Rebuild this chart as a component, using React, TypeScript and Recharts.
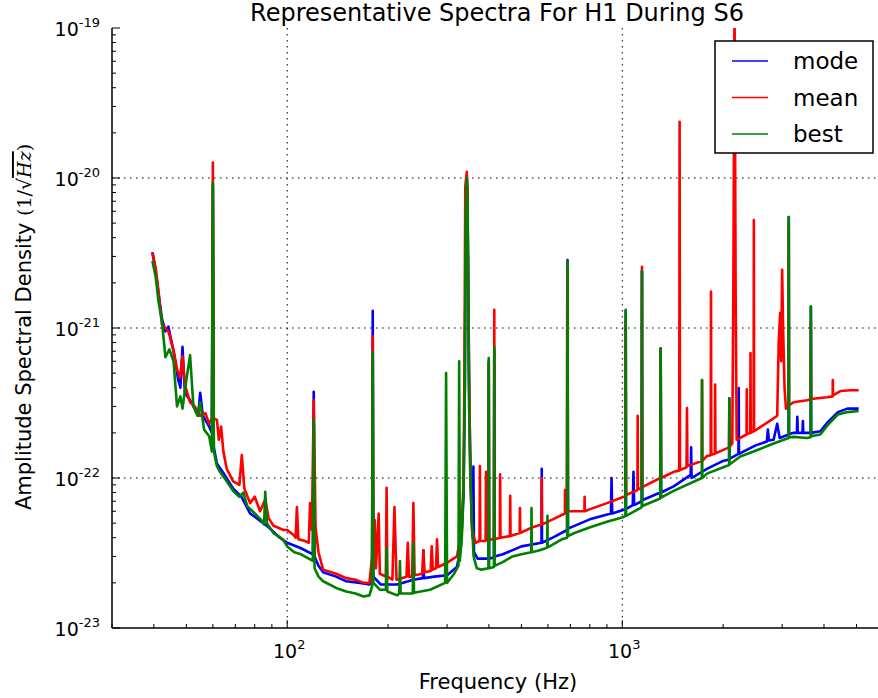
import { CartesianGrid, Line, LineChart, XAxis, YAxis } from 'recharts';

// [frequency Hz, amplitude spectral density 1/sqrt(Hz)]
const modeSpectrum: [number, number][] = [
  [39.6, 3.2e-21], [40.5, 2.4e-21], [41.3, 1.7e-21], [42.3, 1.15e-21], [43.3, 9.5e-22], [44.2, 1.02e-21],
  [45.8, 7.0e-22], [47.3, 4.5e-22], [48.0, 4.0e-22], [48.7, 7.5e-22], [49.5, 3.7e-22], [51.3, 3.3e-22],
  [53, 2.9e-22], [54.2, 2.6e-22], [55.0, 3.7e-22], [56, 2.6e-22], [58.5, 2.2e-22], [59.6, 2.0e-22],
  [60.0, 9.0e-21], [60.4, 1.6e-22], [61.7, 1.25e-22], [65, 1.05e-22], [69, 8.5e-23], [73, 7.5e-23],
  [77.5, 5.8e-23], [82, 5.3e-23], [88, 4.7e-23], [95, 4.0e-23], [100, 3.7e-23], [110, 3.4e-23],
  [119.3, 3.1e-23], [120, 3.76e-22], [120.7, 3.0e-23], [124, 2.6e-23], [128, 2.35e-23], [140, 2.2e-23],
  [150, 2.05e-23], [165, 2.0e-23], [176, 1.95e-23], [179.2, 2.2e-23], [180, 1.3e-21], [180.8, 2.2e-23],
  [190, 1.95e-23], [213, 1.95e-23], [238, 2.1e-23], [254, 2.15e-23], [255, 3.3e-23], [256, 2.15e-23],
  [275, 2.2e-23], [300, 2.25e-23], [321, 2.55e-23], [330, 3.5e-23], [336, 8e-23], [339, 4e-22],
  [341, 5e-21], [343.6, 1.0e-20], [345, 8e-21], [347, 2e-21], [349, 4e-22], [352, 1.3e-22],
  [355, 6e-23], [358, 4e-23], [359.5, 1.19e-22], [361, 3.2e-23], [370, 2.9e-23], [398.6, 2.9e-23],
  [399.5, 6.0e-22], [400.5, 2.9e-23], [414, 2.95e-23], [415, 7.0e-22], [416, 3.0e-23], [440, 3.1e-23],
  [500, 3.5e-23], [574, 3.7e-23], [575, 1.15e-22], [576, 3.7e-23], [620, 4.0e-23], [684.5, 4.5e-23],
  [686.5, 2.84e-21], [688.5, 4.6e-23], [800, 5.3e-23], [925, 5.8e-23], [929, 1.0e-22], [933, 5.8e-23],
  [1022, 6.2e-23], [1024, 1.3e-21], [1026, 6.2e-23], [1075, 6.6e-23], [1080, 1.1e-22], [1085, 6.6e-23],
  [1143, 7.0e-23], [1145, 2.4e-21], [1147, 7.1e-23],
  [1298, 8.0e-23], [1302, 7.3e-22], [1306, 8.0e-23], [1423, 8.8e-23], [1600, 1.05e-22], [1605, 1.6e-22],
  [1610, 1.0e-22], [1789, 1.15e-22], [2000, 1.3e-22], [2084, 1.33e-22], [2087, 3.4e-22], [2090, 1.34e-22],
  [2222, 1.45e-22], [2226, 3.98e-22], [2230, 1.45e-22], [2500, 1.65e-22], [2700, 1.75e-22], [2720, 2.1e-22],
  [2740, 1.78e-22], [2829, 1.8e-22], [2900, 2.3e-22],
  [2950, 1.85e-22], [3136, 1.95e-22], [3140, 5.5e-21], [3145, 1.96e-22], [3246, 2.0e-22], [3320, 2.0e-22],
  [3330, 2.56e-22], [3340, 2.0e-22], [3450, 2.0e-22], [3460, 2.4e-22], [3470, 2.0e-22], [3560, 2.0e-22],
  [3650, 2.0e-22], [3655, 1.39e-21], [3662, 2.0e-22], [3900, 2.05e-22], [4100, 2.35e-22], [4400, 2.75e-22],
  [4700, 2.9e-22], [5075, 2.9e-22],
];

const meanSpectrum: [number, number][] = [
  [39.6, 3.2e-21], [40.5, 2.5e-21], [41.3, 1.75e-21], [42.3, 1.05e-21], [43.3, 1.0e-21], [44.2, 9.5e-22],
  [45.8, 7.1e-22], [47.0, 5.2e-22], [47.9, 4.7e-22], [48.7, 6.5e-22], [49.5, 4.2e-22], [51.3, 3.2e-22],
  [53, 3.0e-22], [55, 2.6e-22], [57, 2.7e-22], [58.5, 2.3e-22], [59.6, 2.5e-22], [60.0, 1.27e-20],
  [60.4, 2.5e-22], [61.7, 2.44e-22], [62.5, 1.8e-22], [63.5, 2.2e-22], [64.5, 1.5e-22], [66, 1.15e-22],
  [69, 9.5e-23], [72, 9.0e-23], [73.2, 1.42e-22], [74.5, 8.5e-23], [77.5, 6.8e-23], [80, 7.5e-23],
  [83, 6.0e-23], [86, 7.2e-23], [88, 5.4e-23], [91, 4.8e-23], [97.5, 4.5e-23], [100, 4.5e-23],
  [104, 4.2e-23], [106, 4.0e-23], [106.9, 6.4e-23], [108, 3.9e-23], [113, 3.8e-23], [116, 3.7e-23],
  [117, 6.8e-23], [118.5, 4.5e-23], [120, 3.3e-22], [121.5, 4.7e-23], [124, 3.2e-23], [128, 2.45e-23],
  [140, 2.3e-23], [150, 2.15e-23], [160, 2.1e-23], [169, 2.0e-23], [176, 2.0e-23], [179.2, 3.0e-23],
  [180, 8.8e-22], [180.8, 3.0e-23], [182.5, 5.25e-23], [184, 2.5e-23], [187.5, 5.8e-23], [189, 2.3e-23],
  [197, 2.2e-23], [198, 8.6e-23], [199, 2.2e-23], [206, 2.1e-23], [209, 6.4e-23], [212, 2.1e-23],
  [227, 2.2e-23], [229, 3.7e-23], [231, 2.2e-23], [236, 2.2e-23], [238, 6.8e-23], [240, 2.25e-23],
  [253, 2.3e-23], [255, 3.3e-23], [257, 2.35e-23], [268, 2.4e-23], [270, 3.5e-23], [272, 2.45e-23],
  [278, 2.5e-23], [280, 3.9e-23], [282, 2.55e-23], [298, 2.7e-23], [321, 3.0e-23], [332, 4.5e-23],
  [336, 1e-22], [338, 5e-22], [340, 8.75e-21], [343.6, 1.1e-20], [345, 8e-21], [347, 2e-21],
  [349, 5e-22], [352, 1.08e-22], [356, 4.5e-23], [365, 3.7e-23], [375, 3.8e-23], [376, 1.2e-22],
  [377, 3.8e-23], [391, 3.8e-23], [392, 1.1e-22], [393, 3.9e-23], [398.6, 3.9e-23], [399.5, 5.8e-22],
  [400.5, 3.9e-23], [414, 3.9e-23], [415, 1.32e-21], [416, 3.9e-23], [431, 4.0e-23], [432, 1.06e-22],
  [433, 4.0e-23], [462, 4.1e-23], [463, 7.6e-23], [464, 4.1e-23], [494, 4.3e-23], [495, 6.3e-23],
  [496, 4.3e-23], [540, 4.7e-23], [574, 4.9e-23], [575, 1.0e-22], [576, 4.9e-23], [620, 5.3e-23],
  [674, 5.8e-23], [675, 8.3e-23], [676, 5.8e-23], [683, 5.85e-23], [685, 1.5e-21], [686.5, 2.7e-21],
  [688.5, 6e-23], [771, 6.0e-23], [772, 7.5e-23], [773, 6.0e-23], [802, 6.2e-23], [900, 6.8e-23],
  [1010, 7.5e-23], [1022, 7.6e-23], [1024, 1.13e-21], [1026, 7.7e-23], [1110, 8.3e-23], [1112, 2.6e-22],
  [1114, 8.4e-23], [1143, 8.6e-23], [1145, 2.56e-21], [1147, 8.7e-23], [1298, 1.0e-22], [1302, 7.3e-22],
  [1306, 1.0e-22], [1423, 1.1e-22], [1479, 1.12e-22], [1483, 2.37e-20], [1487, 1.13e-22], [1555, 1.18e-22],
  [1560, 2.93e-22], [1565, 1.2e-22], [1726, 1.3e-22], [1730, 4.5e-22], [1734, 1.3e-22], [1789, 1.4e-22],
  [1836, 1.42e-22], [1840, 1.75e-21], [1844, 1.43e-22], [1889, 1.45e-22], [1893, 4.2e-22], [1897, 1.46e-22],
  [2083, 1.6e-22], [2087, 3.2e-22], [2091, 1.62e-22], [2130, 1.7e-22], [2145, 1.7e-21], [2163, 1.5e-19],
  [2180, 1.6e-21], [2195, 1.8e-22], [2250, 1.85e-22], [2349, 1.95e-22], [2353, 3.9e-22], [2357, 1.96e-22],
  [2410, 2.0e-22], [2414, 6.8e-22], [2418, 2.0e-22], [2466, 2.05e-22], [2470, 5.25e-21], [2474, 2.05e-22],
  [2829, 2.5e-22], [2900, 2.6e-22], [2930, 8e-22], [2960, 1.26e-21], [2980, 6e-22], [3000, 2.44e-21],
  [3020, 1.0e-21], [3050, 4e-22], [3080, 2.9e-22], [3136, 3.0e-22], [3140, 5.0e-21], [3145, 3.05e-22],
  [3246, 3.2e-22], [3560, 3.3e-22], [3650, 3.35e-22], [3655, 1.1e-21], [3662, 3.36e-22], [4083, 3.45e-22],
  [4245, 3.5e-22], [4250, 4.5e-22], [4255, 3.55e-22], [4477, 3.8e-22], [4800, 3.85e-22], [5075, 3.85e-22],
];

const bestSpectrum: [number, number][] = [
  [39.6, 2.8e-21], [40.5, 2.2e-21], [41.3, 1.5e-21], [42.3, 1.1e-21], [43.3, 6.4e-22], [44.5, 7.2e-22],
  [45.8, 6.0e-22], [46.9, 3.0e-22], [48.0, 3.5e-22], [48.7, 2.9e-22], [50.0, 4.5e-22], [51.3, 6.6e-22],
  [52.5, 3.0e-22], [54.0, 2.6e-22], [55.0, 3.2e-22], [56.5, 2.1e-22], [58.5, 1.9e-22], [59.6, 1.5e-22],
  [60.0, 9.3e-21], [60.4, 1.5e-22], [61.7, 1.2e-22], [63, 1.1e-22], [66, 9.5e-23], [69, 8.2e-23],
  [72, 7.5e-23], [74, 8.0e-23], [76, 6.5e-23], [80, 5.8e-23], [84, 5.2e-23], [85.3, 4.9e-23],
  [86, 8.1e-23], [87, 5.0e-23], [91, 4.3e-23], [97, 3.9e-23], [100, 3.5e-23], [105, 3.2e-23],
  [110, 3.1e-23], [116, 2.9e-23], [119.3, 2.8e-23], [120, 2.44e-22], [120.7, 2.5e-23], [124, 2.2e-23],
  [128, 2.05e-23], [140, 1.85e-23], [150, 1.75e-23], [160, 1.7e-23], [169, 1.62e-23], [176, 1.65e-23],
  [179.2, 1.9e-23], [180, 6.9e-22], [180.8, 2.0e-23], [189, 1.8e-23], [197, 1.8e-23], [198, 3.4e-23],
  [199, 1.75e-23], [213, 1.65e-23], [216, 1.7e-23], [217, 2.8e-23], [218, 1.7e-23], [237, 1.7e-23],
  [238, 3.7e-23], [239, 1.72e-23], [267, 1.8e-23], [296, 2.0e-23], [298, 5.0e-22], [300, 2.0e-23],
  [315, 2.3e-23], [324.5, 2.6e-23], [326, 6.0e-22], [327.5, 2.8e-23], [332, 4.0e-23], [336, 8e-23],
  [339, 4e-22], [341, 5e-21], [343.6, 1.0e-20], [345, 8e-21], [347, 2e-21], [349, 3e-22],
  [352, 1.0e-22], [356, 5e-23], [360, 3.0e-23], [368, 2.5e-23], [380, 2.45e-23], [398.6, 2.5e-23],
  [399.5, 6.3e-22], [400.5, 2.5e-23], [414, 2.55e-23], [415, 7.5e-22], [416, 2.6e-23], [440, 2.75e-23],
  [470, 3.0e-23], [500, 3.1e-23], [535, 3.2e-23], [536, 6.3e-23], [537, 3.2e-23], [567, 3.3e-23],
  [590, 3.4e-23], [597, 3.45e-23], [598, 5.6e-23], [599, 3.45e-23], [620, 3.6e-23], [660, 3.9e-23],
  [684.5, 4.0e-23], [686.5, 2.77e-21], [688.5, 4.1e-23], [720, 4.3e-23], [802, 4.7e-23], [900, 5.1e-23],
  [1010, 5.5e-23], [1022, 5.6e-23], [1024, 1.32e-21], [1026, 5.6e-23], [1132, 6.3e-23], [1143, 6.4e-23],
  [1145, 2.4e-21], [1147, 6.5e-23], [1298, 7.3e-23], [1302, 7.3e-22], [1306, 7.4e-23], [1423, 8.2e-23],
  [1728, 1.0e-22], [1730, 4.5e-22], [1733, 1.0e-22], [1789, 1.07e-22], [2084, 1.22e-22], [2087, 3.4e-22],
  [2090, 1.23e-22], [2250, 1.39e-22], [2500, 1.52e-22], [2829, 1.7e-22], [3136, 1.85e-22], [3140, 5.5e-21],
  [3145, 1.86e-22], [3246, 1.88e-22], [3560, 1.85e-22], [3650, 1.87e-22], [3655, 1.39e-21], [3662, 1.9e-22],
  [3900, 1.95e-22], [4100, 2.25e-22], [4400, 2.65e-22], [4700, 2.75e-22], [5075, 2.8e-22],
];

const seriesNames = ['mode', 'mean', 'best'];
const seriesColors = ['#0000ff', '#ff0000', '#008000'];

const xMajorTicks = [100, 1000];
const xMajorLabels = ['2', '3'];
const xMinorTicks = [30, 40, 50, 60, 70, 80, 90, 200, 300, 400, 500, 600, 700, 800, 900, 2000, 3000, 4000, 5000, 6000];

const yMajorTicks = [1e-23, 1e-22, 1e-21, 1e-20, 1e-19];
const yMajorLabels = ['-23', '-22', '-21', '-20', '-19'];
const yMinorMultipliers = [2, 3, 4, 5, 6, 7, 8, 9];

const xTicks = [...xMinorTicks, ...xMajorTicks].sort((a, b) => a - b);
const yTicks = [
  ...yMajorTicks,
  ...yMajorTicks.slice(0, -1).flatMap((d) => yMinorMultipliers.map((m) => m * d)),
];

const toPoints = (s: [number, number][]) => s.map(([f, asd]) => ({ f, asd }));
const spectra = [modeSpectrum, meanSpectrum, bestSpectrum].map(toPoints);

const FONT = 'DejaVu Sans, sans-serif';

function BottomTick({ x, y, payload }: any) {
  const i = xMajorTicks.indexOf(payload.value);
  const major = i >= 0;
  return (
    <g>
      <line x1={x} x2={x} y1={y} y2={y - (major ? 8 : 4)} stroke="#000" strokeWidth={1} />
      {major && (
        <text x={x + 2} y={y + 30} textAnchor="middle" fontSize={19} fill="#000" fontFamily={FONT}>
          10
          <tspan dy={-9} fontSize={13}>
            {xMajorLabels[i]}
          </tspan>
        </text>
      )}
    </g>
  );
}

function TopTick({ x, y, payload }: any) {
  const major = xMajorTicks.includes(payload.value);
  return <line x1={x} x2={x} y1={y} y2={y + (major ? 8 : 4)} stroke="#000" strokeWidth={1} />;
}

function LeftTick({ x, y, payload }: any) {
  const i = yMajorTicks.indexOf(payload.value);
  const major = i >= 0;
  return (
    <g>
      <line x1={x} x2={x + (major ? 8 : 4)} y1={y} y2={y} stroke="#000" strokeWidth={1} />
      {major && (
        <text x={x - 12} y={y + 8} textAnchor="end" fontSize={19} fill="#000" fontFamily={FONT}>
          10
          <tspan dy={-9} fontSize={13}>
            {yMajorLabels[i]}
          </tspan>
        </text>
      )}
    </g>
  );
}

export default function App() {
  return (
    <div
      style={{
        position: 'absolute',
        left: 0,
        top: 0,
        width: 878,
        height: 698,
        overflow: 'hidden',
        background: '#fff',
      }}
    >
      <LineChart width={900} height={698} margin={{ top: 28, right: 17, bottom: 0, left: 0 }}>
        <CartesianGrid
          horizontal
          vertical
          horizontalValues={[1e-22, 1e-21, 1e-20]}
          verticalValues={xMajorTicks}
          stroke="#000"
          strokeDasharray="1.5 4.5"
          strokeWidth={1}
        />
        <XAxis
          dataKey="f"
          type="number"
          scale="log"
          domain={[30, 6000]}
          allowDataOverflow
          ticks={xTicks}
          interval={0}
          height={70}
          tickSize={0}
          tickMargin={0}
          tickLine={false}
          tick={<BottomTick />}
          axisLine={{ stroke: '#000', strokeWidth: 1.5 }}
        />
        <XAxis
          xAxisId="top"
          orientation="top"
          dataKey="f"
          type="number"
          scale="log"
          domain={[30, 6000]}
          allowDataOverflow
          ticks={xTicks}
          interval={0}
          height={0}
          tickSize={0}
          tickMargin={0}
          tickLine={false}
          tick={<TopTick />}
          axisLine={{ stroke: '#000', strokeWidth: 1.5 }}
        />
        <YAxis
          type="number"
          scale="log"
          domain={[1e-23, 1e-19]}
          allowDataOverflow
          ticks={yTicks}
          interval={0}
          width={112}
          tickSize={0}
          tickMargin={0}
          tickLine={false}
          tick={<LeftTick />}
          axisLine={{ stroke: '#000', strokeWidth: 1.5 }}
        />
        {spectra.map((data, i) => (
          <Line
            key={seriesNames[i]}
            data={data}
            dataKey="asd"
            name={seriesNames[i]}
            type="linear"
            stroke={seriesColors[i]}
            strokeWidth={2.6}
            strokeLinejoin="round"
            dot={false}
            activeDot={false}
            isAnimationActive={false}
          />
        ))}
      </LineChart>

      <svg
        width={878}
        height={698}
        style={{ position: 'absolute', left: 0, top: 0, pointerEvents: 'none' }}
        fontFamily={FONT}
      >
        <text x={497} y={21} textAnchor="middle" fontSize={24} fill="#000">
          Representative Spectra For H1 During S6
        </text>
        <text x={498} y={689} textAnchor="middle" fontSize={21} fill="#000">
          Frequency (Hz)
        </text>
        <text x={31} y={327} transform="rotate(-90 31 327)" textAnchor="middle" fontSize={21} fill="#000">
          Amplitude Spectral Density{' '}
          <tspan fontFamily="DejaVu Serif, serif" fontSize={19}>
            (1/√
          </tspan>
          <tspan fontFamily="DejaVu Serif, serif" fontStyle="italic" fontSize={19} textDecoration="overline">
            Hz
          </tspan>
          <tspan fontFamily="DejaVu Serif, serif" fontSize={19}>
            )
          </tspan>
        </text>

        <rect x={715} y={41} width={158} height={112} fill="#fff" stroke="#000" strokeWidth={1.5} />
        {seriesNames.map((name, i) => (
          <g key={name}>
            <line x1={732} x2={768} y1={61 + i * 36.5} y2={61 + i * 36.5} stroke={seriesColors[i]} strokeWidth={1.5} />
            <text x={793} y={61 + i * 36.5 + 8} fontSize={23} fill="#000">
              {name}
            </text>
          </g>
        ))}
      </svg>
    </div>
  );
}
